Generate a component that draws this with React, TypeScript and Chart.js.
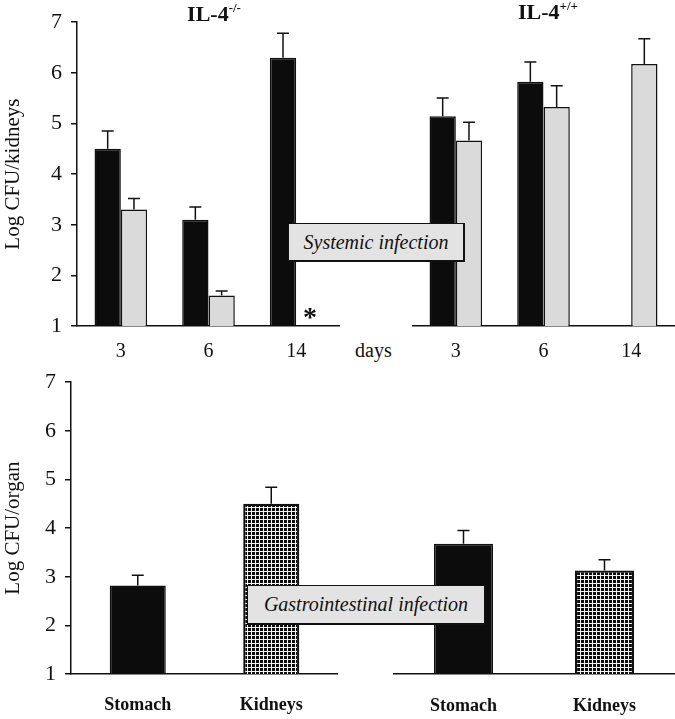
import React, { useEffect, useRef } from "react";
import { Chart, registerables } from "chart.js";
Chart.register(...registerables);

// ---------- data ----------
const days = ["3", "6", "14"];
const yTickValues = [1, 2, 3, 4, 5, 6, 7];
// Systemic infection, IL-4-/-
const koBlack = [4.5, 3.1, 6.3];
const koBlackErr = [0.35, 0.25, 0.48];
const koGrey = [3.3, 1.6, null];
const koGreyErr = [0.22, 0.09, null];
// Systemic infection, IL-4+/+
const wtBlack = [5.14, 5.82, null];
const wtBlackErr = [0.36, 0.39, null];
const wtGrey = [4.66, 5.32, 6.17];
const wtGreyErr = [0.36, 0.42, 0.5];
// Gastrointestinal infection
const organs = ["Stomach", "Kidneys"];
const giKo = [2.82, 4.5];
const giKoErr = [0.21, 0.34];
const giWt = [3.63, 3.09];
const giWtErr = [0.27, 0.22];

const SERIF = '"Liberation Serif", "Times New Roman", serif';
const INK = "#111111";
const BLACK = "#0c0c0c";
const GREY = "#dadada";

function gridPattern(): CanvasPattern | string {
  const c = document.createElement("canvas");
  c.width = 4;
  c.height = 4;
  const g = c.getContext("2d");
  if (!g) return BLACK;
  g.fillStyle = BLACK;
  g.fillRect(0, 0, 4, 4);
  g.fillStyle = "#f4f4f4";
  g.fillRect(3, 0, 1, 4);
  g.fillRect(0, 3, 4, 1);
  return g.createPattern(c, "repeat") || BLACK;
}

const errorBarPlugin = {
  id: "errorBars",
  afterDatasetsDraw(chart: any) {
    const ctx = chart.ctx;
    const y = chart.scales.y;
    chart.data.datasets.forEach((ds: any, i: number) => {
      const meta = chart.getDatasetMeta(i);
      const errs = ds.errors || [];
      meta.data.forEach((el: any, j: number) => {
        const v = ds.data[j];
        const e = errs[j];
        if (v == null || e == null) return;
        const top = y.getPixelForValue(v + e);
        ctx.save();
        ctx.strokeStyle = INK;
        ctx.lineWidth = 1.5;
        ctx.beginPath();
        ctx.moveTo(el.x, el.y);
        ctx.lineTo(el.x, top);
        ctx.moveTo(el.x - 6, top);
        ctx.lineTo(el.x + 6, top);
        ctx.stroke();
        ctx.restore();
      });
    });
  },
};

type PanelProps = {
  left: number;
  top: number;
  width: number;
  height: number;
  labels: string[];
  makeDatasets: () => any[];
  showY: boolean;
  yTitle?: string;
  axisWidth: number;
  xHeight: number;
  padTop: number;
  catPct: number;
  xFont: any;
  xPad: number;
};

function Panel(p: PanelProps) {
  const ref = useRef<HTMLCanvasElement | null>(null);
  useEffect(() => {
    if (!ref.current) return;
    const chart = new Chart(ref.current, {
      type: "bar",
      data: { labels: p.labels, datasets: p.makeDatasets() },
      options: {
        responsive: false,
        animation: false,
        layout: { padding: { top: p.padTop, left: 0, right: 0, bottom: 0 } },
        plugins: { legend: { display: false }, tooltip: { enabled: false } },
        datasets: { bar: { categoryPercentage: p.catPct, barPercentage: 1 } },
        scales: {
          x: {
            grid: { display: false, drawTicks: false },
            border: { display: true, color: INK, width: 1.5 },
            ticks: { color: INK, font: p.xFont, padding: p.xPad, maxRotation: 0 },
            afterFit: (s: any) => {
              s.height = p.xHeight;
            },
          },
          y: {
            display: p.showY,
            min: yTickValues[0],
            max: yTickValues[yTickValues.length - 1],
            afterBuildTicks: (s: any) => {
              s.ticks = yTickValues.map((v) => ({ value: v }));
            },
            ticks: { color: INK, font: { family: SERIF, size: 22 }, padding: 9 },
            grid: { drawOnChartArea: false, drawTicks: true, tickLength: 6, color: INK, lineWidth: 1.5 },
            border: { display: true, color: INK, width: 1.5 },
            title: {
              display: !!p.yTitle,
              text: p.yTitle || "",
              color: INK,
              font: { family: SERIF, size: 21 },
              padding: { top: 1, bottom: 0 },
            },
            afterFit: (s: any) => {
              s.width = p.axisWidth;
            },
          },
        },
      } as any,
      plugins: [errorBarPlugin],
    });
    return () => chart.destroy();
  }, []);
  return (
    <canvas
      ref={ref}
      width={p.width}
      height={p.height}
      style={{ position: "absolute", left: p.left, top: p.top, width: p.width, height: p.height }}
    />
  );
}

const dayFont = { family: SERIF, size: 20 };
const organFont = { family: SERIF, size: 18, weight: "bold" };

const barStyle = { borderColor: INK, borderWidth: 1.5, borderSkipped: "bottom" };
const organBarStyle = { borderColor: INK, borderWidth: [1.5, 2.2], borderSkipped: "bottom" };

const boxStyle: React.CSSProperties = {
  position: "absolute",
  boxSizing: "border-box",
  background: "#e3e3e3",
  borderTop: "1.5px solid #111",
  borderLeft: "1.5px solid #111",
  borderRight: "2.5px solid #111",
  borderBottom: "2.5px solid #111",
  display: "flex",
  alignItems: "center",
  justifyContent: "center",
  fontFamily: SERIF,
  fontStyle: "italic",
  fontSize: 20,
  color: INK,
  whiteSpace: "nowrap",
  zIndex: 2,
};

const titleStyle: React.CSSProperties = {
  position: "absolute",
  transform: "translateX(-50%)",
  fontFamily: SERIF,
  fontWeight: "bold",
  fontSize: 22,
  lineHeight: "22px",
  color: INK,
  whiteSpace: "nowrap",
};

const supStyle: React.CSSProperties = {
  fontSize: 13,
  position: "relative",
  top: -9,
  verticalAlign: "baseline",
};

export default function App() {
  return (
    <div style={{ position: "absolute", left: 0, top: 0, width: 675, height: 719, background: "#fff", overflow: "hidden" }}>
      <Panel
        left={0}
        top={0}
        width={340}
        height={360}
        labels={days}
        makeDatasets={() => [
          { data: koBlack, errors: koBlackErr, backgroundColor: BLACK, ...barStyle },
          { data: koGrey, errors: koGreyErr, backgroundColor: GREY, ...barStyle },
        ]}
        showY={true}
        yTitle="Log CFU/kidneys"
        axisWidth={77}
        xHeight={34}
        padTop={22}
        catPct={0.6}
        xFont={dayFont}
        xPad={14}
      />
      <Panel
        left={412}
        top={0}
        width={263}
        height={360}
        labels={days}
        makeDatasets={() => [
          { data: wtBlack, errors: wtBlackErr, backgroundColor: BLACK, ...barStyle },
          { data: wtGrey, errors: wtGreyErr, backgroundColor: GREY, ...barStyle },
        ]}
        showY={false}
        axisWidth={0}
        xHeight={34}
        padTop={22}
        catPct={0.6}
        xFont={dayFont}
        xPad={14}
      />
      <Panel
        left={0}
        top={360}
        width={338}
        height={359}
        labels={organs}
        makeDatasets={() => [
          { data: giKo, errors: giKoErr, backgroundColor: [BLACK, gridPattern()], ...organBarStyle },
        ]}
        showY={true}
        yTitle="Log CFU/organ"
        axisWidth={71}
        xHeight={45}
        padTop={17}
        catPct={0.42}
        xFont={organFont}
        xPad={21}
      />
      <Panel
        left={393}
        top={360}
        width={282}
        height={359}
        labels={organs}
        makeDatasets={() => [
          { data: giWt, errors: giWtErr, backgroundColor: [BLACK, gridPattern()], ...organBarStyle },
        ]}
        showY={false}
        axisWidth={0}
        xHeight={45}
        padTop={17}
        catPct={0.42}
        xFont={organFont}
        xPad={22}
      />

      <div style={{ ...titleStyle, left: 214, top: 3 }}>
        IL-4<span style={supStyle}>-/-</span>
      </div>
      <div style={{ ...titleStyle, left: 548, top: 1 }}>
        IL-4<span style={supStyle}>+/+</span>
      </div>

      <div
        style={{
          position: "absolute",
          left: 355,
          top: 340,
          fontFamily: SERIF,
          fontSize: 20,
          lineHeight: "20px",
          color: INK,
        }}
      >
        days
      </div>

      <div
        style={{
          position: "absolute",
          left: 303,
          top: 303,
          fontFamily: SERIF,
          fontWeight: "bold",
          fontSize: 28,
          lineHeight: "28px",
          color: INK,
        }}
      >
        *
      </div>

      <div style={{ ...boxStyle, left: 288, top: 223, width: 177, height: 39 }}>Systemic infection</div>
      <div style={{ ...boxStyle, left: 247, top: 585, width: 239, height: 40 }}>Gastrointestinal infection</div>
    </div>
  );
}
